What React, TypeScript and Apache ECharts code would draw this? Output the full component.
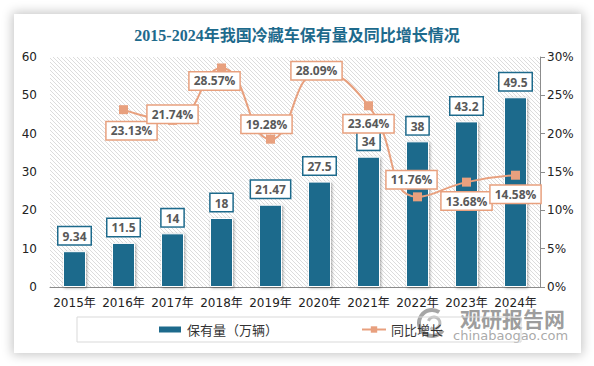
import React, { useEffect, useRef } from "react";
import * as echarts from "echarts";

const years = ["2015年", "2016年", "2017年", "2018年", "2019年", "2020年", "2021年", "2022年", "2023年", "2024年"];
const stock = [9.34, 11.5, 14, 18, 21.47, 27.5, 34, 38, 43.2, 49.5];
const growth: (number | null)[] = [null, 23.13, 21.74, 28.57, 19.28, 28.09, 23.64, 11.76, 13.68, 14.58];
const growthLabelOffsets: number[][] = [[0, 0], [8, 21], [0, -6], [-7, 13], [-4, -15], [-3, -1], [0, 18], [-6, -17], [0, 19], [0, 19]];

const TITLE = "2015-2024年我国冷藏车保有量及同比增长情况";
const BAR_COLOR = "#1d6a8c";
const LINE_COLOR = "#e8a07e";

function makePattern() {
  const c = document.createElement("canvas");
  c.width = 4;
  c.height = 4;
  const ctx = c.getContext("2d")!;
  ctx.fillStyle = "#ffffff";
  ctx.fillRect(0, 0, 4, 4);
  ctx.strokeStyle = "#dcdcdc";
  ctx.lineWidth = 1;
  ctx.beginPath();
  ctx.moveTo(0, 0); ctx.lineTo(4, 4);
  ctx.moveTo(-2, 2); ctx.lineTo(2, 6);
  ctx.moveTo(2, -2); ctx.lineTo(6, 2);
  ctx.stroke();
  return c;
}

export default function App() {
  const ref = useRef<HTMLDivElement>(null);
  useEffect(() => {
    document.body.style.margin = "0";
    const chart = echarts.init(ref.current!, null, { renderer: "svg" });
    const pattern = makePattern();
    chart.setOption({
      animation: false,
      title: {
        text: TITLE,
        left: "center",
        top: 22,
        textStyle: { fontSize: 16, fontWeight: "bold", color: BAR_COLOR, fontFamily: "'Liberation Serif', 'Noto Sans CJK SC', serif" },
      },
      grid: {
        left: 50, right: 54, top: 57, bottom: 79,
        show: true,
        borderWidth: 0,
        backgroundColor: { image: pattern, repeat: "repeat" },
      },
      legend: {
        left: 77,
        top: 317,
        width: 433,
        padding: [6, 78, 6, 80],
        itemGap: 83,
        borderColor: "#d9d9d9",
        borderWidth: 1,
        itemWidth: 24,
        itemHeight: 8,
        textStyle: { fontSize: 13, color: "#333", fontFamily: "'Noto Sans CJK SC', sans-serif" },
        data: [
          { name: "保有量（万辆）", icon: "rect" },
          { name: "同比增长" },
        ],
      },
      xAxis: {
        type: "category",
        data: years,
        axisLine: { show: true, lineStyle: { color: "#8c8c8c", width: 1 } },
        axisTick: { show: false },
        axisLabel: { fontSize: 12, color: "#222", margin: 10, fontFamily: "'DejaVu Sans', 'Noto Sans CJK SC', sans-serif", interval: 0 },
      },
      yAxis: [
        {
          type: "value",
          min: 0, max: 60, interval: 10,
          axisLine: { show: false },
          axisTick: { show: false },
          splitLine: { show: false },
          axisLabel: { fontSize: 12, color: "#222", margin: 13, fontFamily: "'DejaVu Sans', sans-serif" },
        },
        {
          type: "value",
          min: 0, max: 30, interval: 5,
          position: "right",
          axisLine: { show: true, lineStyle: { color: "#8c8c8c" } },
          axisTick: { show: true, length: 5, lineStyle: { color: "#8c8c8c" } },
          splitLine: { show: false },
          axisLabel: { fontSize: 12, color: "#222", margin: 7, formatter: "{value}%", fontFamily: "'DejaVu Sans', sans-serif" },
        },
      ],
      series: [
        {
          name: "保有量（万辆）",
          type: "bar",
          data: stock,
          barWidth: 23,
          itemStyle: {
            color: BAR_COLOR,
            borderColor: "#ffffff",
            borderWidth: 1,
            shadowBlur: 3,
            shadowColor: "rgba(0,0,0,0.35)",
            shadowOffsetX: 1,
            shadowOffsetY: 1,
          },
          label: {
            show: true,
            position: "top",
            distance: 7,
            fontSize: 12,
            fontWeight: "bold",
            color: "#595959",
            fontFamily: "'Open Sans', sans-serif",
            backgroundColor: "#ffffff",
            borderColor: BAR_COLOR,
            borderWidth: 1.5,
            padding: [3, 4, 2, 4],
          },
        },
        {
          name: "同比增长",
          type: "line",
          yAxisIndex: 1,
          data: growth.map((v, i) => ({
            value: v,
            label: { offset: growthLabelOffsets[i] },
          })),
          smooth: true,
          symbol: "rect",
          symbolSize: 9,
          lineStyle: { color: LINE_COLOR, width: 2 },
          itemStyle: { color: LINE_COLOR },
          z: 3,
          label: {
            show: true,
            position: "inside",
            formatter: (p: any) => p.value.toFixed(2) + "%",
            fontSize: 12,
            fontWeight: "bold",
            color: "#595959",
            fontFamily: "'Open Sans', sans-serif",
            backgroundColor: "#ffffff",
            borderColor: LINE_COLOR,
            borderWidth: 1.5,
            padding: [3, 4, 2, 4],
          },
        },
      ],
      graphic: [
        {
          type: "arc",
          shape: { cx: 432, cy: 323, r: 13, startAngle: 0.6, endAngle: 5.3 },
          style: { stroke: "#a6a6a6", lineWidth: 4, fill: "none" },
          silent: true,
        },
        {
          type: "arc",
          shape: { cx: 434, cy: 323, r: 6, startAngle: 3.5, endAngle: 8.5 },
          style: { stroke: "#bdbdbd", lineWidth: 3, fill: "none" },
          silent: true,
        },
        {
          type: "text",
          left: 460,
          top: 307,
          style: { text: "观研报告网", fontSize: 21, fontWeight: "bold", fill: "#8c8c8c", opacity: 0.85, fontFamily: "'Noto Sans CJK SC', sans-serif" },
          silent: true,
        },
        {
          type: "text",
          left: 453,
          top: 329,
          style: { text: "chinabaogao.com", fontSize: 13, fill: "#a0a0a0", opacity: 0.9, fontFamily: "'DejaVu Sans', sans-serif" },
          silent: true,
        },
      ],
    });
    return () => chart.dispose();
  }, []);
  return (
    <div style={{ position: "relative", width: 594, height: 366, background: "#ffffff", overflow: "hidden" }}>
      <div style={{ position: "absolute", left: 14, top: 14, width: 567, height: 339, background: "#ffffff", boxShadow: "0 0 10px 2px rgba(0,0,0,0.22)" }} />
      <div ref={ref} style={{ position: "absolute", left: 0, top: 0, width: 594, height: 366 }} />
    </div>
  );
}
